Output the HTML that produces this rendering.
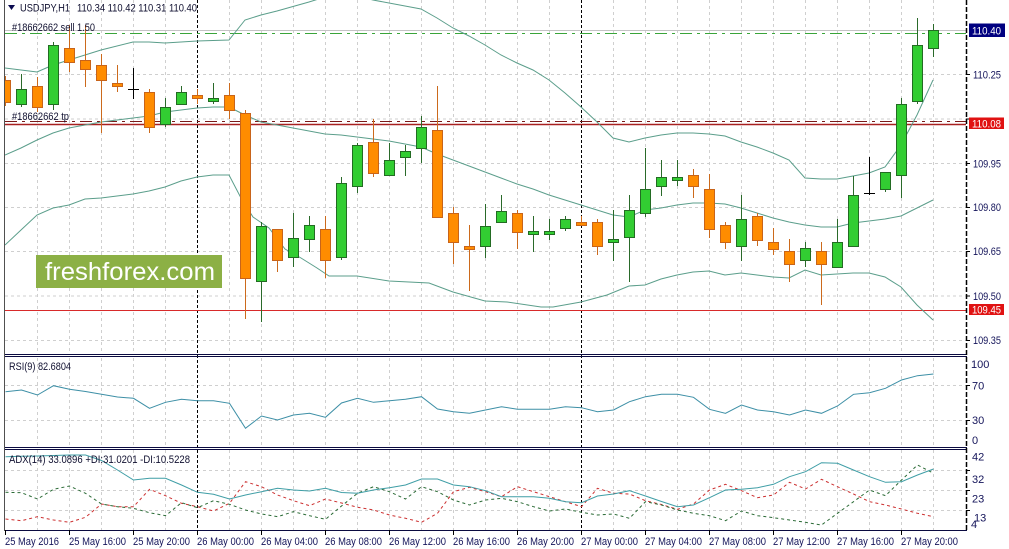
<!DOCTYPE html>
<html><head><meta charset="utf-8"><style>
html,body{margin:0;padding:0;background:#fff;}
svg{display:block;font-family:"Liberation Sans",sans-serif;}
</style></head><body>
<svg width="1009" height="549" viewBox="0 0 1009 549" xmlns="http://www.w3.org/2000/svg">
<defs>
<clipPath id="cm"><rect x="5" y="0" width="961" height="354"/></clipPath>
<clipPath id="cr"><rect x="5" y="358" width="961" height="89"/></clipPath>
<clipPath id="ca"><rect x="5" y="450" width="961" height="80"/></clipPath>
</defs>
<rect width="1009" height="549" fill="#fff"/>

<!-- vertical grid -->
<g stroke="#cfcfcf" stroke-dasharray="3,3" stroke-width="1">
<path d="M37.5 0V354M69.5 0V354M101.5 0V354M133.5 0V354M165.5 0V354M229.5 0V354M261.5 0V354M293.5 0V354M325.5 0V354M357.5 0V354M389.5 0V354M421.5 0V354M453.5 0V354M485.5 0V354M517.5 0V354M549.5 0V354M613.5 0V354M645.5 0V354M677.5 0V354M709.5 0V354M741.5 0V354M773.5 0V354M805.5 0V354M837.5 0V354M869.5 0V354M901.5 0V354M933.5 0V354"/>
<path d="M37.5 358V447M69.5 358V447M101.5 358V447M133.5 358V447M165.5 358V447M229.5 358V447M261.5 358V447M293.5 358V447M325.5 358V447M357.5 358V447M389.5 358V447M421.5 358V447M453.5 358V447M485.5 358V447M517.5 358V447M549.5 358V447M613.5 358V447M645.5 358V447M677.5 358V447M709.5 358V447M741.5 358V447M773.5 358V447M805.5 358V447M837.5 358V447M869.5 358V447M901.5 358V447M933.5 358V447"/>
<path d="M37.5 450V530M69.5 450V530M101.5 450V530M133.5 450V530M165.5 450V530M229.5 450V530M261.5 450V530M293.5 450V530M325.5 450V530M357.5 450V530M389.5 450V530M421.5 450V530M453.5 450V530M485.5 450V530M517.5 450V530M549.5 450V530M613.5 450V530M645.5 450V530M677.5 450V530M709.5 450V530M741.5 450V530M773.5 450V530M805.5 450V530M837.5 450V530M869.5 450V530M901.5 450V530M933.5 450V530"/>
<!-- horizontal grid -->
<path d="M5 74.5H966M5 119H966M5 163.5H966M5 207.5H966M5 251.5H966M5 296H966M5 340.5H966"/>
<path d="M5 385.5H966M5 420.5H966"/>
<path d="M5 470.5H966M5 490.5H966M5 510.5H966"/>
</g>

<!-- day separators -->
<g stroke="#000" stroke-dasharray="3,2" stroke-width="1">
<path d="M197.5 0V530M581.5 0V530"/>
</g>

<!-- level lines -->
<path d="M5 30.5H966" stroke="#c4c4c4" stroke-width="1"/>
<path d="M5 33.5H966" stroke="#3aa53a" stroke-width="1" stroke-dasharray="12,5,3,5"/>
<path d="M5 121.5H966" stroke="#7a1a1a" stroke-width="1" stroke-dasharray="12,5,3,5"/>
<path d="M5 124.5H966" stroke="#a82020" stroke-width="1.6"/>
<path d="M5 310.5H966" stroke="#d82a2a" stroke-width="1"/>

<!-- logo -->
<rect x="36" y="255" width="186" height="33" fill="#8cb045"/>
<text x="45" y="280" font-size="25" fill="#fff" textLength="170" lengthAdjust="spacingAndGlyphs">freshforex.com</text>

<g clip-path="url(#cm)">
<!-- Bollinger bands -->
<g fill="none" stroke="#5b9e8b" stroke-width="1">
<polyline points="5,68 21,70 37,72 53,65 69,60 101,50 133,42 149,42 165,43 197,41 229,40 245,20 261,15 277,11 309,2 325,-3 341,-6 357,-4 373,0 421,9 437,18 453,28 469,36 485,45 501,55 517,63 533,70 549,80 565,93 581,107 597,122 613,138 629,142 645,138 661,135 677,133 693,133 709,134 725,136 741,142 757,147 773,153 789,160 805,178 821,179 837,179 853,176 869,173 885,167 901,145 917,115 933,80"/>
<polyline points="5,155 21,148 37,140 53,133 69,128 85,125 101,122 117,120 133,118 149,116 165,112 181,110 197,108 213,107 229,107 245,115 261,122 277,125 293,128 309,131 325,134 341,135 357,137 373,139 389,141 405,144 421,147 437,154 453,160 469,166 485,172 501,178 517,184 533,189 549,195 565,200 581,205 597,210 613,215 629,217 645,210 661,208 677,205 693,203 709,203 725,204 741,208 757,213 773,218 789,222 805,225 821,227 837,227 853,223 869,221 885,219 901,216 917,208 933,200"/>
<polyline points="5,245 21,230 37,215 53,208 69,205 85,199 101,198 117,196 133,194 149,191 165,187 181,181 197,177 213,175 229,175 241,198 253,217 269,228 285,249 301,258 317,268 329,276 357,276 389,281 429,283 453,292 485,301 507,302 541,307 553,307 581,302 607,295 629,286 645,285 661,279 677,275 693,272 709,271 725,275 741,273 757,275 773,277 789,278 805,270 821,275 837,274 853,273 869,273 885,277 901,287 917,305 933,320"/>
</g>

<!-- wicks -->
<path stroke="#2a6a2a" stroke-width="1" fill="none" d="M21.5 74V107M53.5 42V110M165.5 98V127M181.5 86V104M213.5 83V104M261.5 222V322M293.5 213V267M309.5 216V252M341.5 177V260M357.5 143V193M389.5 143V175M405.5 145V176M421.5 116V163M485.5 204V258M501.5 195V222M533.5 216V252M549.5 219V240M565.5 216V231M613.5 210V261M629.5 195V282M645.5 148V217M661.5 160V196M677.5 160V186M741.5 195V261M805.5 242V267M837.5 219V267M853.5 176V246M885.5 172V192M901.5 98V198M917.5 18V104M933.5 24V57"/>
<path stroke="#cc6a1c" stroke-width="1" fill="none" d="M5.5 76V106M37.5 77V112M69.5 25V72M85.5 25V87M101.5 54V133M117.5 65V92M149.5 89V133M197.5 89V104M229.5 83V119M245.5 110V319M277.5 229V272M325.5 216V278M373.5 119V177M437.5 86V217M453.5 207V264M469.5 225V291M517.5 210V249M581.5 216V225M597.5 219V255M693.5 169V198M709.5 174V238M725.5 222V249M757.5 213V246M773.5 228V255M789.5 239V282M821.5 242V305"/>
<!-- doji -->
<path stroke="#000" stroke-width="1" fill="none" d="M133.5 68V99M128 89.5H139M869.5 157V195M864 193.5H875"/>

<!-- bull bodies -->
<g fill="#32cd32" stroke="#236b23" stroke-width="1">
<rect x="16.5" y="89.5" width="10" height="15"/>
<rect x="48.5" y="45.5" width="10" height="59"/>
<rect x="160.5" y="107.5" width="10" height="17"/>
<rect x="176.5" y="92.5" width="10" height="12"/>
<rect x="208.5" y="98.5" width="10" height="3"/>
<rect x="256.5" y="226.5" width="10" height="55"/>
<rect x="288.5" y="238.5" width="10" height="19"/>
<rect x="304.5" y="225.5" width="10" height="14"/>
<rect x="336.5" y="183.5" width="10" height="74"/>
<rect x="352.5" y="145.5" width="10" height="41"/>
<rect x="384.5" y="160.5" width="10" height="15"/>
<rect x="400.5" y="151.5" width="10" height="6"/>
<rect x="416.5" y="127.5" width="10" height="21"/>
<rect x="480.5" y="226.5" width="10" height="20"/>
<rect x="496.5" y="211.5" width="10" height="11"/>
<rect x="528.5" y="231.5" width="10" height="3"/>
<rect x="544.5" y="231.5" width="10" height="3"/>
<rect x="560.5" y="219.5" width="10" height="9"/>
<rect x="608.5" y="239.5" width="10" height="3"/>
<rect x="624.5" y="210.5" width="10" height="27"/>
<rect x="640.5" y="189.5" width="10" height="24"/>
<rect x="656.5" y="177.5" width="10" height="9"/>
<rect x="672.5" y="177.5" width="10" height="3"/>
<rect x="736.5" y="219.5" width="10" height="27"/>
<rect x="800.5" y="248.5" width="10" height="12"/>
<rect x="832.5" y="242.5" width="10" height="25"/>
<rect x="848.5" y="195.5" width="10" height="51"/>
<rect x="880.5" y="172.5" width="10" height="17"/>
<rect x="896.5" y="104.5" width="10" height="71"/>
<rect x="912.5" y="45.5" width="10" height="56"/>
<rect x="928.5" y="30.5" width="10" height="18"/>
</g>
<!-- bear bodies -->
<g fill="#ff8c00" stroke="#c8641a" stroke-width="1">
<rect x="0.5" y="80.5" width="10" height="22"/>
<rect x="32.5" y="86.5" width="10" height="21"/>
<rect x="64.5" y="48.5" width="10" height="14"/>
<rect x="80.5" y="60.5" width="10" height="9"/>
<rect x="96.5" y="65.5" width="10" height="15"/>
<rect x="112.5" y="83.5" width="10" height="3"/>
<rect x="144.5" y="92.5" width="10" height="35"/>
<rect x="192.5" y="95.5" width="10" height="3"/>
<rect x="224.5" y="95.5" width="10" height="15"/>
<rect x="240.5" y="113.5" width="10" height="165"/>
<rect x="272.5" y="229.5" width="10" height="31"/>
<rect x="320.5" y="229.5" width="10" height="31"/>
<rect x="368.5" y="142.5" width="10" height="31"/>
<rect x="432.5" y="130.5" width="10" height="87"/>
<rect x="448.5" y="213.5" width="10" height="29"/>
<rect x="464.5" y="246.5" width="10" height="3"/>
<rect x="512.5" y="213.5" width="10" height="19"/>
<rect x="576.5" y="222.5" width="10" height="3"/>
<rect x="592.5" y="222.5" width="10" height="24"/>
<rect x="688.5" y="175.5" width="10" height="11"/>
<rect x="704.5" y="189.5" width="10" height="40"/>
<rect x="720.5" y="225.5" width="10" height="17"/>
<rect x="752.5" y="216.5" width="10" height="24"/>
<rect x="768.5" y="242.5" width="10" height="7"/>
<rect x="784.5" y="251.5" width="10" height="13"/>
<rect x="816.5" y="251.5" width="10" height="13"/>
</g>
</g>

<!-- RSI -->
<g clip-path="url(#cr)">
<polyline fill="none" stroke="#3d8fa6" stroke-width="1" points="5.5,391.7 21.5,390 37.5,395 53.5,385.7 69.5,389.3 85.5,391.5 101.5,394.3 117.5,397 133.5,398.3 149.5,408.3 165.5,402.3 181.5,399.3 197.5,400.7 213.5,400.7 229.5,403.3 245.5,428.3 261.5,416 277.5,420 293.5,415 309.5,413.3 325.5,417.3 341.5,403 357.5,398.3 373.5,402.3 389.5,400.7 405.5,399.3 421.5,396.7 437.5,409 453.5,411.7 469.5,413.3 485.5,410 501.5,406.7 517.5,409.3 533.5,409.3 549.5,409.3 565.5,406.7 581.5,407.7 597.5,411.7 613.5,410 629.5,401.7 645.5,396.7 661.5,394.3 677.5,394.3 693.5,397.3 709.5,409.3 725.5,413.3 741.5,405 757.5,410 773.5,411.7 789.5,415 805.5,410 821.5,413.3 837.5,406 853.5,394.3 869.5,392.7 885.5,388.3 901.5,380 917.5,375.7 933.5,374"/>
</g>

<!-- ADX -->
<g clip-path="url(#ca)" fill="none" stroke-width="1">
<polyline stroke="#cc3030" stroke-dasharray="3,3" points="5.5,519 21.5,520.7 37.5,516.7 53.5,520 69.5,522.3 85.5,517.3 101.5,504 117.5,506.7 133.5,506.7 149.5,489.3 165.5,495.7 181.5,503.3 197.5,506.7 213.5,511 229.5,503.3 245.5,481.7 261.5,486.7 277.5,495 293.5,500.7 309.5,505.7 325.5,499 341.5,503 357.5,507.3 373.5,510 389.5,515 405.5,518.3 421.5,522.3 437.5,513.3 453.5,491.7 469.5,487.3 485.5,491.7 501.5,496.7 517.5,486.7 533.5,491.7 549.5,496.7 565.5,501.7 581.5,506.7 597.5,488.3 613.5,493.3 629.5,494 645.5,500.7 661.5,504.5 677.5,509.3 693.5,504 709.5,490 725.5,484.3 741.5,490.7 757.5,497.7 773.5,495 789.5,482.3 805.5,489 821.5,479.3 837.5,486.7 853.5,494 869.5,501.7 885.5,505 901.5,509 917.5,513.3 933.5,516.7"/>
<polyline stroke="#2a6a35" stroke-dasharray="3,3" points="5.5,492.3 21.5,492.7 37.5,499 53.5,489.3 69.5,486 85.5,493.3 101.5,504 117.5,506.7 133.5,508.3 149.5,512.7 165.5,515.7 181.5,502.7 197.5,507.7 213.5,500.7 229.5,504.3 245.5,510 261.5,514 277.5,516.7 293.5,511.7 309.5,515.7 325.5,519.3 341.5,506 357.5,493.3 373.5,486.7 389.5,491.7 405.5,499 421.5,486.7 437.5,491.7 453.5,500 469.5,505 485.5,500 501.5,498.3 517.5,501.7 533.5,506.7 549.5,511 565.5,509 581.5,512.3 597.5,515 613.5,514 629.5,518.3 645.5,501.7 661.5,505 677.5,510 693.5,513.3 709.5,515.7 725.5,520.7 741.5,511 757.5,515.7 773.5,517.7 789.5,520 805.5,522.3 821.5,525 837.5,513.3 853.5,501.7 869.5,490 885.5,495.7 901.5,480 917.5,465 933.5,473.3"/>
<polyline stroke="#3f9ea6" points="5.5,456.7 21.5,456.3 37.5,456 53.5,455.5 69.5,455 85.5,455 101.5,460.5 117.5,470 133.5,480 149.5,478.3 165.5,478.3 181.5,485 197.5,492.3 213.5,494.3 229.5,499 245.5,495 261.5,491.7 277.5,488.3 293.5,490 309.5,491 325.5,488.3 341.5,492.5 357.5,493.3 373.5,490 389.5,487.7 405.5,485 421.5,479 437.5,479 453.5,485 469.5,486.7 485.5,490.7 501.5,496.7 517.5,496.7 533.5,496.7 549.5,498.3 565.5,501.7 581.5,502.7 597.5,496 613.5,494 629.5,490.7 645.5,496 661.5,501.5 677.5,506.7 693.5,505 709.5,497.7 725.5,490 741.5,489.3 757.5,487.7 773.5,484.3 789.5,476.7 805.5,471.7 821.5,462.7 837.5,463.3 853.5,470 869.5,476.7 885.5,482.3 901.5,481.7 917.5,475 933.5,469"/>
</g>

<!-- panel borders -->
<g stroke="#0a0a40" stroke-width="1" fill="none">
<path d="M4 354.5H967M4 356.5H967M4 447.5H967M4 449.5H967M4 530.5H967"/>
</g>
<path d="M4.5 0V531" stroke="#505050" stroke-width="1"/>
<path d="M966.5 0V531" stroke="#000" stroke-width="1.5" stroke-dasharray="5,2"/>

<!-- axis ticks -->
<g stroke="#000" stroke-width="1">
<path d="M966 74.5H970M966 119H970M966 163.5H970M966 207.5H970M966 251.5H970M966 296H970M966 340.5H970M966 385.5H970M966 420.5H970M966 470.5H970M966 490.5H970M966 510.5H970"/>
<path d="M5.5 530V535M69.5 530V535M133.5 530V535M197.5 530V535M261.5 530V535M325.5 530V535M389.5 530V535M453.5 530V535M517.5 530V535M581.5 530V535M645.5 530V535M709.5 530V535M773.5 530V535M837.5 530V535M901.5 530V535"/>
</g>

<!-- header texts -->
<polygon points="8,5 15,5 11.5,10" fill="#0a0a50"/>
<g font-size="11" fill="#101030">
<text x="20" y="11.5" textLength="50" lengthAdjust="spacingAndGlyphs">USDJPY,H1</text>
<text x="77" y="11.5" textLength="120" lengthAdjust="spacingAndGlyphs">110.34 110.42 110.31 110.40</text>
<text x="12" y="31" textLength="83" lengthAdjust="spacingAndGlyphs">#18662662 sell 1.50</text>
<text x="12" y="120" textLength="57" lengthAdjust="spacingAndGlyphs">#18662662 tp</text>
<text x="9" y="370" textLength="62" lengthAdjust="spacingAndGlyphs">RSI(9) 82.6804</text>
<text x="9" y="463" textLength="181" lengthAdjust="spacingAndGlyphs">ADX(14) 33.0896 +DI:31.0201 -DI:10.5228</text>
</g>

<!-- price scale -->
<g font-size="11" fill="#14145a">
<text x="973" y="78.5" textLength="28" lengthAdjust="spacingAndGlyphs">110.25</text>
<text x="973" y="167.5" textLength="28" lengthAdjust="spacingAndGlyphs">109.95</text>
<text x="973" y="211" textLength="28" lengthAdjust="spacingAndGlyphs">109.80</text>
<text x="973" y="255" textLength="28" lengthAdjust="spacingAndGlyphs">109.65</text>
<text x="973" y="300" textLength="28" lengthAdjust="spacingAndGlyphs">109.50</text>
<text x="973" y="344" textLength="28" lengthAdjust="spacingAndGlyphs">109.35</text>
<text x="971" y="368">100</text>
<text x="972" y="389.5">70</text>
<text x="972" y="424">30</text>
<text x="972" y="444">0</text>
<text x="972" y="460.5">42</text>
<text x="972" y="483">32</text>
<text x="972" y="502.5">23</text>
<text x="974" y="521.5">13</text>
<text x="971" y="528">4</text>
</g>
<rect x="969" y="23.5" width="36" height="13.5" fill="#000080"/>
<text x="972" y="34.5" font-size="11" fill="#fff" textLength="29" lengthAdjust="spacingAndGlyphs">110.40</text>
<rect x="969" y="117.5" width="35" height="11.5" fill="#e01212"/>
<text x="972" y="127.5" font-size="11" fill="#fff" textLength="29" lengthAdjust="spacingAndGlyphs">110.08</text>
<rect x="969" y="304" width="35" height="11" fill="#e01212"/>
<text x="972" y="313.5" font-size="11" fill="#fff" textLength="29" lengthAdjust="spacingAndGlyphs">109.45</text>

<!-- time axis -->
<g font-size="11" fill="#14145a">
<text x="5" y="545" textLength="54" lengthAdjust="spacingAndGlyphs">25 May 2016</text>
<text x="69" y="545" textLength="57" lengthAdjust="spacingAndGlyphs">25 May 16:00</text>
<text x="133" y="545" textLength="57" lengthAdjust="spacingAndGlyphs">25 May 20:00</text>
<text x="197" y="545" textLength="57" lengthAdjust="spacingAndGlyphs">26 May 00:00</text>
<text x="261" y="545" textLength="57" lengthAdjust="spacingAndGlyphs">26 May 04:00</text>
<text x="325" y="545" textLength="57" lengthAdjust="spacingAndGlyphs">26 May 08:00</text>
<text x="389" y="545" textLength="57" lengthAdjust="spacingAndGlyphs">26 May 12:00</text>
<text x="453" y="545" textLength="57" lengthAdjust="spacingAndGlyphs">26 May 16:00</text>
<text x="517" y="545" textLength="57" lengthAdjust="spacingAndGlyphs">26 May 20:00</text>
<text x="581" y="545" textLength="57" lengthAdjust="spacingAndGlyphs">27 May 00:00</text>
<text x="645" y="545" textLength="57" lengthAdjust="spacingAndGlyphs">27 May 04:00</text>
<text x="709" y="545" textLength="57" lengthAdjust="spacingAndGlyphs">27 May 08:00</text>
<text x="773" y="545" textLength="57" lengthAdjust="spacingAndGlyphs">27 May 12:00</text>
<text x="837" y="545" textLength="57" lengthAdjust="spacingAndGlyphs">27 May 16:00</text>
<text x="901" y="545" textLength="57" lengthAdjust="spacingAndGlyphs">27 May 20:00</text>
</g>
</svg>
</body></html>
